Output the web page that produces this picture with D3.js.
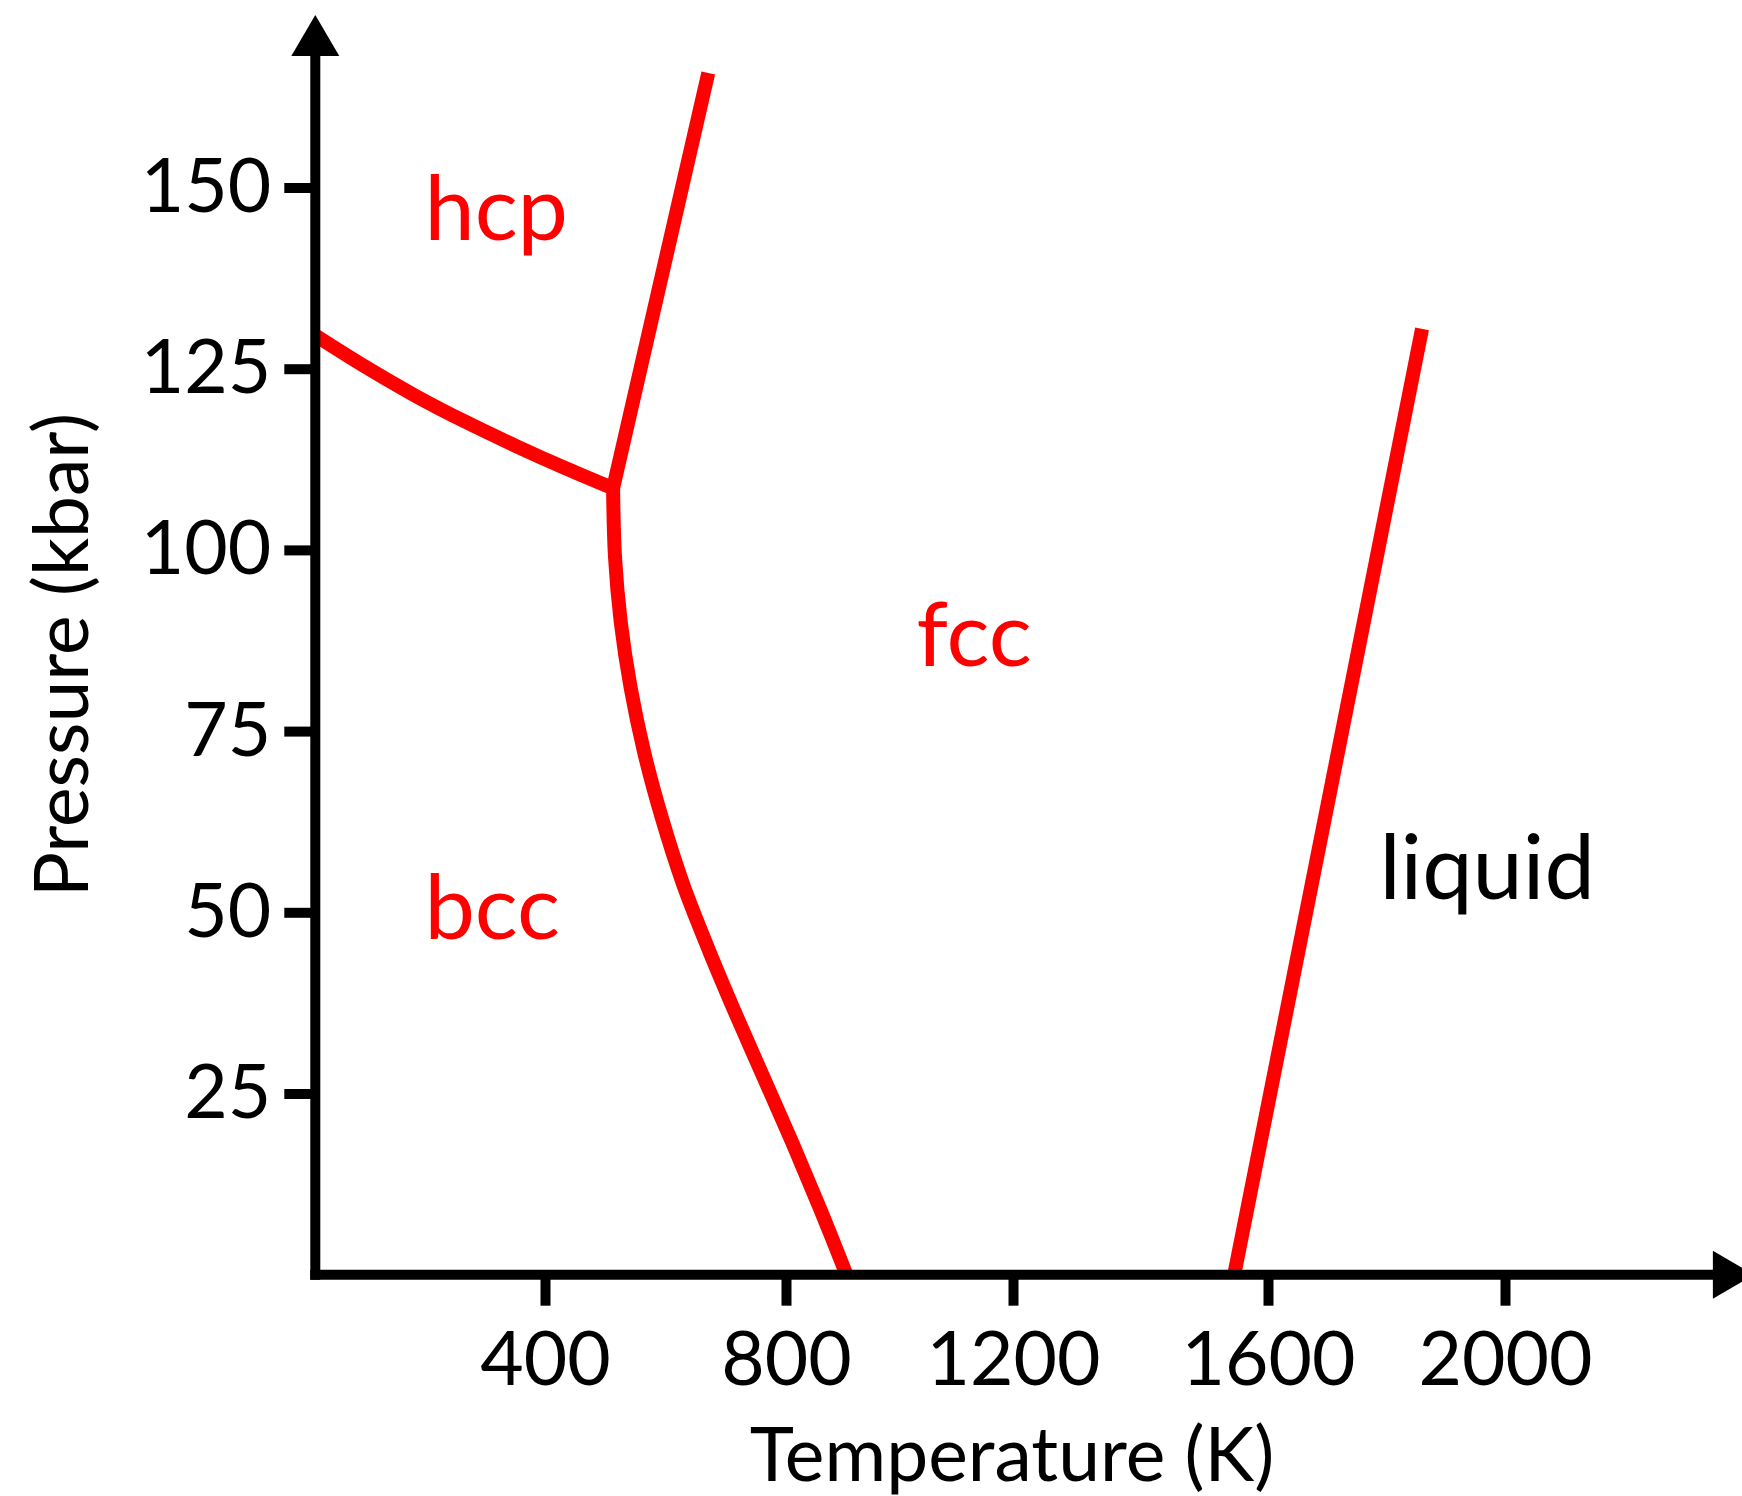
<!DOCTYPE html>
<html><head><meta charset="utf-8">
<script src="https://cdn.jsdelivr.net/npm/d3@7"></script>
<style>html,body{margin:0;padding:0;background:#fff;} svg{display:block;}</style>
</head><body>
<svg id="chart" width="1742" height="1496"></svg>
<script>
// ---- data ----
const xTickValues = [400, 800, 1200, 1600, 2000];
const yTickValues = [25, 50, 75, 100, 125, 150];
const xTitle = "Temperature (K)";
const yTitle = "Pressure (kbar)";

// hcp / bcc boundary
const hcpBccT = [0, 86.5, 173.6, 260.7, 347.8, 433.2, 513];
const hcpBccP = [129.6, 125.3, 121.3, 117.7, 114.4, 111.3, 108.5];
// hcp / fcc boundary
const hcpFccT = [671, 513];
const hcpFccP = [165.8, 108.5];
// bcc / fcc boundary
const bccFccT = [513, 516.2, 525.8, 542.1, 564.8, 594.0, 628.7, 670.9, 716.4, 764.0, 812.3, 860.6, 906.6];
const bccFccP = [108.5, 99.0, 90.0, 81.0, 72.0, 63.0, 54.0, 45.0, 36.0, 27.0, 18.0, 9.0, 0];
// fcc / liquid boundary
const fccLiqT = [1547, 1860];
const fccLiqP = [0, 130.5];

// phase labels (anchored in data coordinates)
const regionNames = ["hcp", "bcc", "fcc", "liquid"];
const regionT = [190, 190, 1030, 1788];
const regionP = [142.8, 46.3, 84.0, 51.8];

// axis arrow extents (data units)
const xAxisEnd = 2420;
const yAxisEnd = 173.8;

// ---- drawing ----
const svg = d3.select("#chart");
svg.append("rect").attr("width", 1742).attr("height", 1496).attr("fill", "#fff");

const x = d3.scaleLinear()
  .domain([0, 400, 800, 1200, 1600, 2000, 2400])
  .range([315.3, 545, 786, 1013, 1268, 1505, 1742]);
const y = d3.scaleLinear().domain([0, 150]).range([1274.7, 187.5]);

const FONT = "Lato, 'Open Sans', sans-serif";
const RED = "#ff0000";
const LW = 14;   // phase line width
const AW = 10;   // axis line width

const zip = (T, P) => T.map((t, i) => [t, P[i]]);
const lineLin = d3.line().x(d => x(d[0])).y(d => y(d[1]));
const lineCurve = d3.line().x(d => x(d[0])).y(d => y(d[1])).curve(d3.curveCatmullRom.alpha(0.5));

const g = svg.append("g");

// hcp/bcc
g.append("path").attr("d", lineCurve(zip(hcpBccT, hcpBccP)))
  .attr("fill", "none").attr("stroke", RED).attr("stroke-width", LW);

// hcp/fcc + bcc/fcc as one continuous stroke
const pA = lineLin(zip(hcpFccT, hcpFccP));
const pB = lineCurve(zip(bccFccT, bccFccP)).replace(/^M/, "L");
g.append("path").attr("d", pA + pB)
  .attr("fill", "none").attr("stroke", RED).attr("stroke-width", LW)
  .attr("stroke-linejoin", "miter");

// fcc/liquid
g.append("path").attr("d", lineLin(zip(fccLiqT, fccLiqP)))
  .attr("fill", "none").attr("stroke", RED).attr("stroke-width", LW);

// region labels
g.selectAll("text.region").data(regionNames).enter().append("text")
  .attr("class", "region")
  .attr("x", (d, i) => x(regionT[i]))
  .attr("y", (d, i) => y(regionP[i]))
  .attr("font-family", FONT).attr("font-size", 90)
  .attr("fill", d => d === "liquid" ? "#000" : RED)
  .text(d => d);

// ---- axes ----
const x0 = x(0), y0 = y(0);
const ax = svg.append("g");
ax.append("line").attr("x1", x0).attr("x2", x0)
  .attr("y1", y0 + AW / 2).attr("y2", y(yAxisEnd) + 40)
  .attr("stroke", "#000").attr("stroke-width", AW);
ax.append("path")
  .attr("d", `M${x0 - 24},${y(yAxisEnd) + 41} L${x0},${y(yAxisEnd)} L${x0 + 24},${y(yAxisEnd) + 41} Z`)
  .attr("fill", "#000");
ax.append("line").attr("x1", x0 - AW / 2).attr("x2", x(xAxisEnd) - 40)
  .attr("y1", y0).attr("y2", y0)
  .attr("stroke", "#000").attr("stroke-width", AW);
ax.append("path")
  .attr("d", `M${x(xAxisEnd) - 41},${y0 - 24} L${x(xAxisEnd)},${y0} L${x(xAxisEnd) - 41},${y0 + 24} Z`)
  .attr("fill", "#000");

const fmt = d3.format("d");

// y ticks
const yAxis = d3.axisLeft(y).tickValues(yTickValues).tickFormat(fmt).tickSize(31).tickPadding(13);
const gy = svg.append("g").attr("transform", `translate(${x0},0)`).call(yAxis);
gy.select(".domain").remove();
gy.selectAll(".tick line").attr("stroke", "#000").attr("stroke-width", AW);
gy.selectAll(".tick text").attr("font-family", FONT).attr("font-size", 75).attr("fill", "#000");

// x ticks
const xAxis = d3.axisBottom(x).tickValues(xTickValues).tickFormat(fmt).tickSize(31).tickPadding(26);
const gx = svg.append("g").attr("transform", `translate(0,${y0})`).call(xAxis);
gx.select(".domain").remove();
gx.selectAll(".tick line").attr("stroke", "#000").attr("stroke-width", AW);
gx.selectAll(".tick text").attr("font-family", FONT).attr("font-size", 75).attr("fill", "#000");

// axis titles
svg.append("text").attr("x", 1012).attr("y", 1481)
  .attr("text-anchor", "middle").attr("font-family", FONT).attr("font-size", 75)
  .attr("fill", "#000").text(xTitle);
svg.append("text").attr("transform", "translate(88,655) rotate(-90)")
  .attr("text-anchor", "middle").attr("font-family", FONT).attr("font-size", 75)
  .attr("fill", "#000").text(yTitle);
</script>
</body></html>
